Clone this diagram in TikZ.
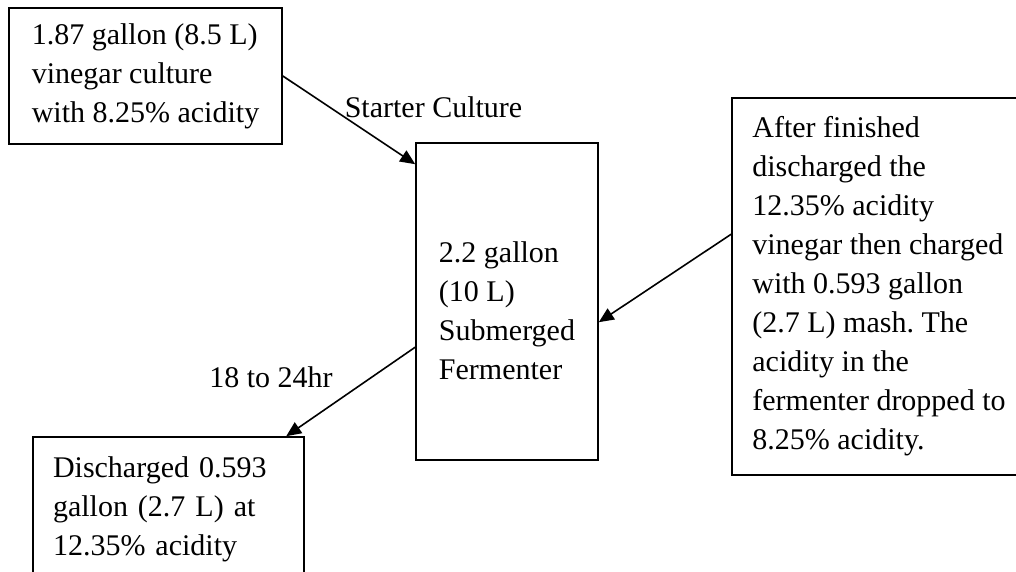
\documentclass[tikz,border=0pt]{standalone}
\usepackage{fontspec}
\setmainfont{Liberation Serif}
\usepackage{tikz}
\usetikzlibrary{arrows.meta}
\tikzset{
  flowbox/.style={draw, rectangle, line width=0.8pt, inner xsep=10pt, inner ysep=0pt, align=left, font=\fontsize{15pt}{19.5pt}\selectfont\frenchspacing},
  flowlbl/.style={inner sep=0pt, font=\fontsize{15pt}{19.5pt}\selectfont},
  flowarrow/.style={-{Triangle[length=7.5pt,width=6.5pt]}, line width=0.8pt}
}

\begin{document}
\begin{tikzpicture}[x=0.5pt,y=-0.5pt]
        \useasboundingbox (0,0) rectangle (1016,572);
        \clip (0,0) rectangle (1016,572);
        % boxes
        \node[flowbox, minimum width=136.5pt, minimum height=68pt] (Cult) at (145.5,76) {1.87 gallon (8.5 L)\\ vinegar culture\\ with 8.25\% acidity};
        \node[flowbox, minimum width=91pt, minimum height=158.5pt] (Ferm) at (507,301.5) {\mbox{}\\ 2.2 gallon\\ (10 L)\\ Submerged\\ Fermenter};
        \node[flowbox, minimum width=147pt, minimum height=188.5pt] (Mash) at (879,286.5) {After finished\\ discharged the\\ 12.35\% acidity\\ vinegar then charged\\ with 0.593 gallon\\ (2.7 L) mash. The\\ acidity in the\\ fermenter dropped to\\ 8.25\% acidity.};
        \node[flowbox, text width=115.5pt, minimum height=72pt] (Disch) at (168.5,509) {Discharged 0.593\\ gallon (2.7 L) at\\ 12.35\% acidity};

        % labels
        \node[flowlbl] (Start) at (433.5,107) {Starter Culture};
        \node[flowlbl] (Hours) at (271,377) {18 to 24hr};

        % edges
        \draw[flowarrow] (Cult.east) -- ([yshift=-11pt]Ferm.north west);
        \draw[flowarrow] ([yshift=-68.5pt]Mash.north west) -- ([yshift=-90pt]Ferm.north east);
        \draw[flowarrow] ([yshift=-102.5pt]Ferm.north west) -- ([xshift=127pt]Disch.north west);
   \end{tikzpicture}
\end{document}
